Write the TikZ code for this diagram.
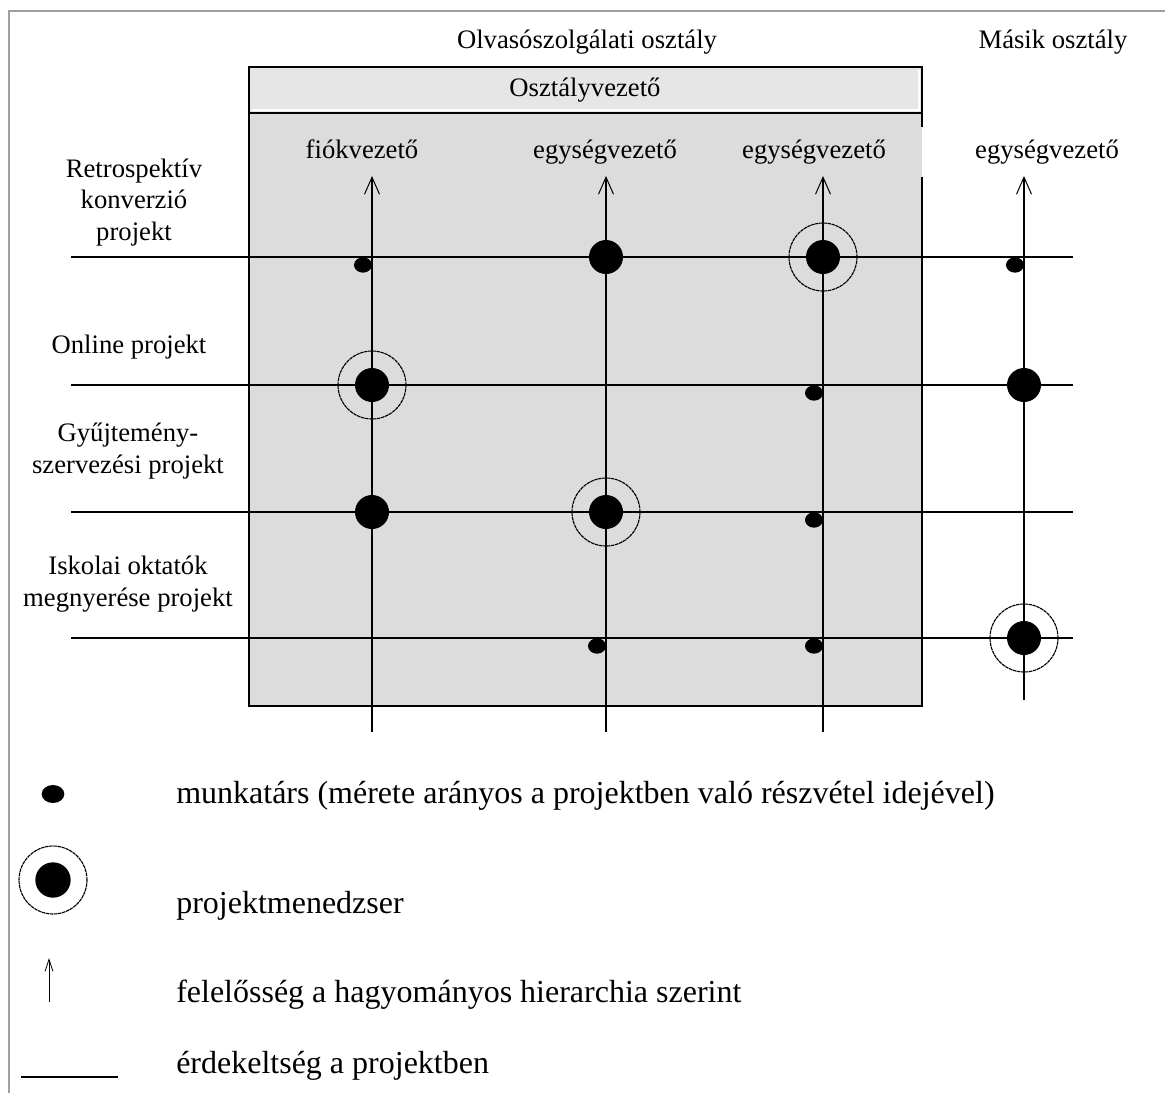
\documentclass[tikz,border=0pt]{standalone}
\usepackage{fontspec}
\setmainfont{Liberation Serif}
\usetikzlibrary{arrows.meta,shapes.geometric}
\definecolor{FrameGray}{RGB}{160,160,160}
\definecolor{HeadGray}{RGB}{230,230,230}
\definecolor{BodyGray}{RGB}{220,220,220}

\tikzset{
  headtext/.style={font=\fontsize{20pt}{23.6pt}\selectfont, inner sep=0pt, anchor=base},
  legendtext/.style={font=\fontsize{24pt}{29pt}\selectfont, inner sep=0pt, anchor=base west},
  interest/.style={line width=1.3pt},
  hierarchy/.style={line width=1.3pt, -{Straight Barb[length=12.75pt,width=11.25pt,line width=0.75pt]}},
  member/.style={ellipse, fill=black, inner sep=0pt, minimum width=13.5pt, minimum height=11.5pt, xshift=-6.75pt, yshift=-6pt},
  bigdot/.style={circle, fill=black, inner sep=0pt, minimum size=25.5pt},
  pmring/.style={circle, draw, line width=0.85pt, dash pattern=on 2.6pt off 0.5pt, inner sep=0pt, minimum size=51pt},
}

\begin{document}
\begin{tikzpicture}[x=0.75pt, y=-0.75pt]
  \useasboundingbox (0,0) rectangle (1165,1093);
  % page frame
  \draw[FrameGray, line width=1.5pt] (9,1093) -- (9,11) -- (1165,11);

  % department box with head row
  \fill[BodyGray] (249,113) rectangle (922,706);
  \draw[line width=0.9pt] (922,177) -- (922,706) -- (249,706) -- (249,113);
  \draw[line width=0.9pt] (922,113) -- (922,127);
  \filldraw[fill=HeadGray, line width=0.9pt] (249,67) rectangle (922,113);
  \draw[white, line width=1.5pt] (252,110) -- (919,110) -- (919,70);

  % titles
  \node[headtext] (dept) at (587,48) {Olvasószolgálati osztály};
  \node[headtext] (other) at (1053,48) {Másik osztály};
  \node[headtext] (chief) at (585,96) {Osztályvezető};
  \node[headtext] (lead1) at (362,158) {fiókvezető};
  \node[headtext] (lead2) at (605,158) {egységvezető};
  \node[headtext] (lead3) at (814,158) {egységvezető};
  \node[headtext] (lead4) at (1047,158) {egységvezető};

  % project names (base = last line)
  \node[headtext, align=center] (proj1) at (134,240) {Retrospektív\\konverzió\\projekt};
  \node[headtext, align=center] (proj2) at (129,353) {Online projekt};
  \node[headtext, align=center] (proj3) at (128,473) {Gyűjtemény-\\szervezési projekt};
  \node[headtext, align=center] (proj4) at (128,606) {Iskolai oktatók\\megnyerése projekt};

  % grid of hierarchy and project lines
  \foreach \n/\x/\yb in {1/372/732, 2/606/732, 3/823/732, 4/1024/700} {
    \coordinate (top\n) at (\x,176);
    \coordinate (bot\n) at (\x,\yb);
  }
  \foreach \n/\y in {1/257, 2/385, 3/512, 4/638} {
    \coordinate (left\n) at (71,\y);
    \coordinate (right\n) at (1073,\y);
  }
  \foreach \n in {1,...,4} {
    \draw[interest] (left\n) -- (right\n);
    \draw[hierarchy] (bot\n) -- (top\n);
  }

  % row 1
  \node[member] (r1c1) at (top1|-left1) {};
  \node[bigdot] (r1c2) at (top2|-left1) {};
  \node[bigdot] (r1c3) at (top3|-left1) {};
  \node[pmring] (r1c3ring) at (top3|-left1) {};
  \node[member] (r1c4) at (top4|-left1) {};
  % row 2
  \node[bigdot] (r2c1) at (top1|-left2) {};
  \node[pmring] (r2c1ring) at (top1|-left2) {};
  \node[member] (r2c3) at (top3|-left2) {};
  \node[bigdot] (r2c4) at (top4|-left2) {};
  % row 3
  \node[bigdot] (r3c1) at (top1|-left3) {};
  \node[bigdot] (r3c2) at (top2|-left3) {};
  \node[pmring] (r3c2ring) at (top2|-left3) {};
  \node[member] (r3c3) at (top3|-left3) {};
  % row 4
  \node[member] (r4c2) at (top2|-left4) {};
  \node[member] (r4c3) at (top3|-left4) {};
  \node[bigdot] (r4c4) at (top4|-left4) {};
  \node[pmring] (r4c4ring) at (top4|-left4) {};

  % legend
  \node[ellipse, fill=black, inner sep=0pt, minimum width=17pt, minimum height=13.5pt] (keymember) at (53,794) {};
  \node[pmring] (keyring) at (53,880) {};
  \node[bigdot, minimum size=26.5pt] (keypm) at (53,880) {};
  \coordinate (keyarrowbot) at (49,1002);
  \coordinate (keyarrowtop) at (49,958);
  \draw[line width=0.75pt, -{Straight Barb[length=9pt,width=6pt,line width=0.6pt]}] (keyarrowbot) -- (keyarrowtop);
  \coordinate (keylinel) at (21,1077);
  \coordinate (keyliner) at (118,1077);
  \draw[line width=0.9pt] (keylinel) -- (keyliner);
  \node[legendtext] (keytext1) at (176,803) {munkatárs (mérete arányos a projektben való részvétel idejével)};
  \node[legendtext] (keytext2) at (176,913) {projektmenedzser};
  \node[legendtext] (keytext3) at (176,1002) {felelősség a hagyományos hierarchia szerint};
  \node[legendtext] (keytext4) at (176,1073) {érdekeltség a projektben};
\end{tikzpicture}
\end{document}
